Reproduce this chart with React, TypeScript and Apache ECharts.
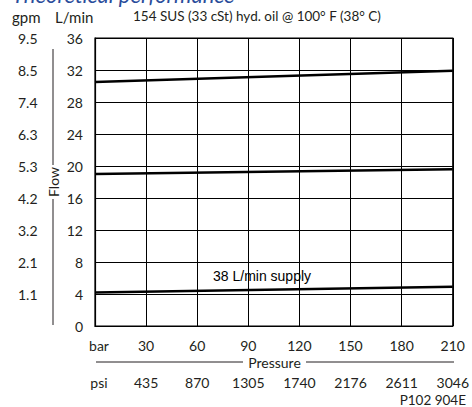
import React, { useEffect, useRef } from "react";
import * as echarts from "echarts";

// Data
const pressureBar = [0, 210];
const flowUpper = [30.5, 31.9];
const flowMiddle = [19.0, 19.6];
const flowLower = [4.2, 4.9];

const barTicks = ["bar", "30", "60", "90", "120", "150", "180", "210"];
const psiTicks = ["psi", "435", "870", "1305", "1740", "2176", "2611", "3046"];
const gpmTicks = ["", "1.1", "2.1", "3.2", "4.2", "5.3", "6.3", "7.4", "8.5", "9.5"];

const title = "Theoretical performance";
const subtitle = "154 SUS (33 cSt) hyd. oil @ 100° F (38° C)";
const supplyLabel = "38 L/min supply";
const partNo = "P102 904E";

const FONT = "Lato";
const INK = "#231f20";

export default function App() {
  const ref = useRef<HTMLDivElement>(null);

  useEffect(() => {
    if (!ref.current) return;
    const chart = echarts.init(ref.current, null, { renderer: "svg" });

    const toPairs = (ys: number[]) => pressureBar.map((x, i) => [x, ys[i]]);
    const lineSeries = (name: string, ys: number[]) => ({
      name,
      type: "line",
      data: toPairs(ys),
      showSymbol: false,
      symbol: "none",
      lineStyle: { color: "#000", width: 2.5 },
      silent: true,
    });

    chart.setOption({
      animation: false,
      backgroundColor: "#fff",
      textStyle: { fontFamily: FONT, color: INK },
      grid: {
        left: 95,
        right: 18,
        top: 38,
        bottom: 81,
        show: true,
        borderColor: "#000",
        borderWidth: 1.2,
      },
      xAxis: [
        {
          type: "value",
          min: 0,
          max: 210,
          interval: 30,
          position: "bottom",
          axisLine: { show: true, lineStyle: { color: "#000", width: 1.2 } },
          axisTick: { show: false },
          splitLine: { show: true, lineStyle: { color: "#000", width: 1 } },
          axisLabel: {
            margin: 12,
            fontFamily: FONT,
            fontSize: 14,
            color: INK,
            formatter: (v: number) => {
              const s = barTicks[Math.round(v / 30)];
              return v === 0 ? "{u|" + s + "}" : s;
            },
            rich: { u: { fontFamily: FONT, fontSize: 14, color: INK, padding: [0, 0, 0, 8] } },
          },
        },
        {
          type: "value",
          min: 0,
          max: 210,
          interval: 30,
          position: "bottom",
          offset: 37,
          axisLine: { show: false },
          axisTick: { show: false },
          splitLine: { show: false },
          axisLabel: {
            margin: 12,
            fontFamily: FONT,
            fontSize: 14,
            color: INK,
            formatter: (v: number) => {
              const s = psiTicks[Math.round(v / 30)];
              return v === 0 ? "{u|" + s + "}" : s;
            },
            rich: { u: { fontFamily: FONT, fontSize: 14, color: INK, padding: [0, 0, 0, 8] } },
          },
        },
      ],
      yAxis: [
        {
          type: "value",
          min: 0,
          max: 36,
          interval: 4,
          position: "left",
          axisLine: { show: true, lineStyle: { color: "#000", width: 1.2 } },
          axisTick: { show: false },
          splitLine: { show: true, lineStyle: { color: "#000", width: 1 } },
          axisLabel: { margin: 12, fontFamily: FONT, fontSize: 14, color: INK },
        },
        {
          type: "value",
          min: 0,
          max: 36,
          interval: 4,
          position: "left",
          offset: 77,
          axisLine: { show: false },
          axisTick: { show: false },
          splitLine: { show: false },
          axisLabel: {
            margin: 0,
            align: "left",
            fontFamily: FONT,
            fontSize: 14,
            color: INK,
            formatter: (v: number) => gpmTicks[Math.round(v / 4)],
          },
        },
      ],
      series: [
        lineSeries("upper", flowUpper),
        lineSeries("middle", flowMiddle),
        lineSeries("lower", flowLower),
      ],
      graphic: [
        {
          type: "text",
          left: 12,
          top: -17,
          style: {
            text: title,
            font: "italic 22px " + FONT,
            fill: "#2a4d9b",
          },
        },
        {
          type: "text",
          left: 12,
          top: 9,
          style: { text: "gpm", font: "15px " + FONT, fill: INK },
        },
        {
          type: "text",
          left: 55,
          top: 9,
          style: { text: "L/min", font: "15px " + FONT, fill: INK },
        },
        {
          type: "text",
          left: 133,
          top: 9,
          style: { text: subtitle, font: "13.5px " + FONT, fill: INK },
        },
        {
          type: "text",
          x: 53,
          y: 182,
          rotation: Math.PI / 2,
          style: {
            text: "Flow",
            font: "14px " + FONT,
            fill: INK,
            align: "center",
            verticalAlign: "middle",
          },
        },
        { type: "line", shape: { x1: 53, y1: 49, x2: 53, y2: 165 }, style: { stroke: INK, lineWidth: 1 } },
        { type: "line", shape: { x1: 53, y1: 199, x2: 53, y2: 325 }, style: { stroke: INK, lineWidth: 1 } },
        {
          type: "text",
          x: 274.5,
          y: 362,
          style: {
            text: "Pressure",
            font: "14px " + FONT,
            fill: INK,
            align: "center",
            verticalAlign: "middle",
          },
        },
        { type: "line", shape: { x1: 96, y1: 362, x2: 243, y2: 362 }, style: { stroke: INK, lineWidth: 1 } },
        { type: "line", shape: { x1: 306, y1: 362, x2: 454, y2: 362 }, style: { stroke: INK, lineWidth: 1 } },
        {
          type: "text",
          left: 213,
          top: 269,
          style: { text: supplyLabel, font: "14px 'Liberation Sans', Arial, sans-serif", fill: "#000" },
        },
        {
          type: "text",
          right: 6,
          top: 393,
          style: { text: partNo, font: "13.5px " + FONT, fill: INK },
        },
      ],
    });

    return () => chart.dispose();
  }, []);

  return (
    <div
      ref={ref}
      style={{ position: "absolute", left: 0, top: 0, width: 472, height: 407 }}
    />
  );
}
